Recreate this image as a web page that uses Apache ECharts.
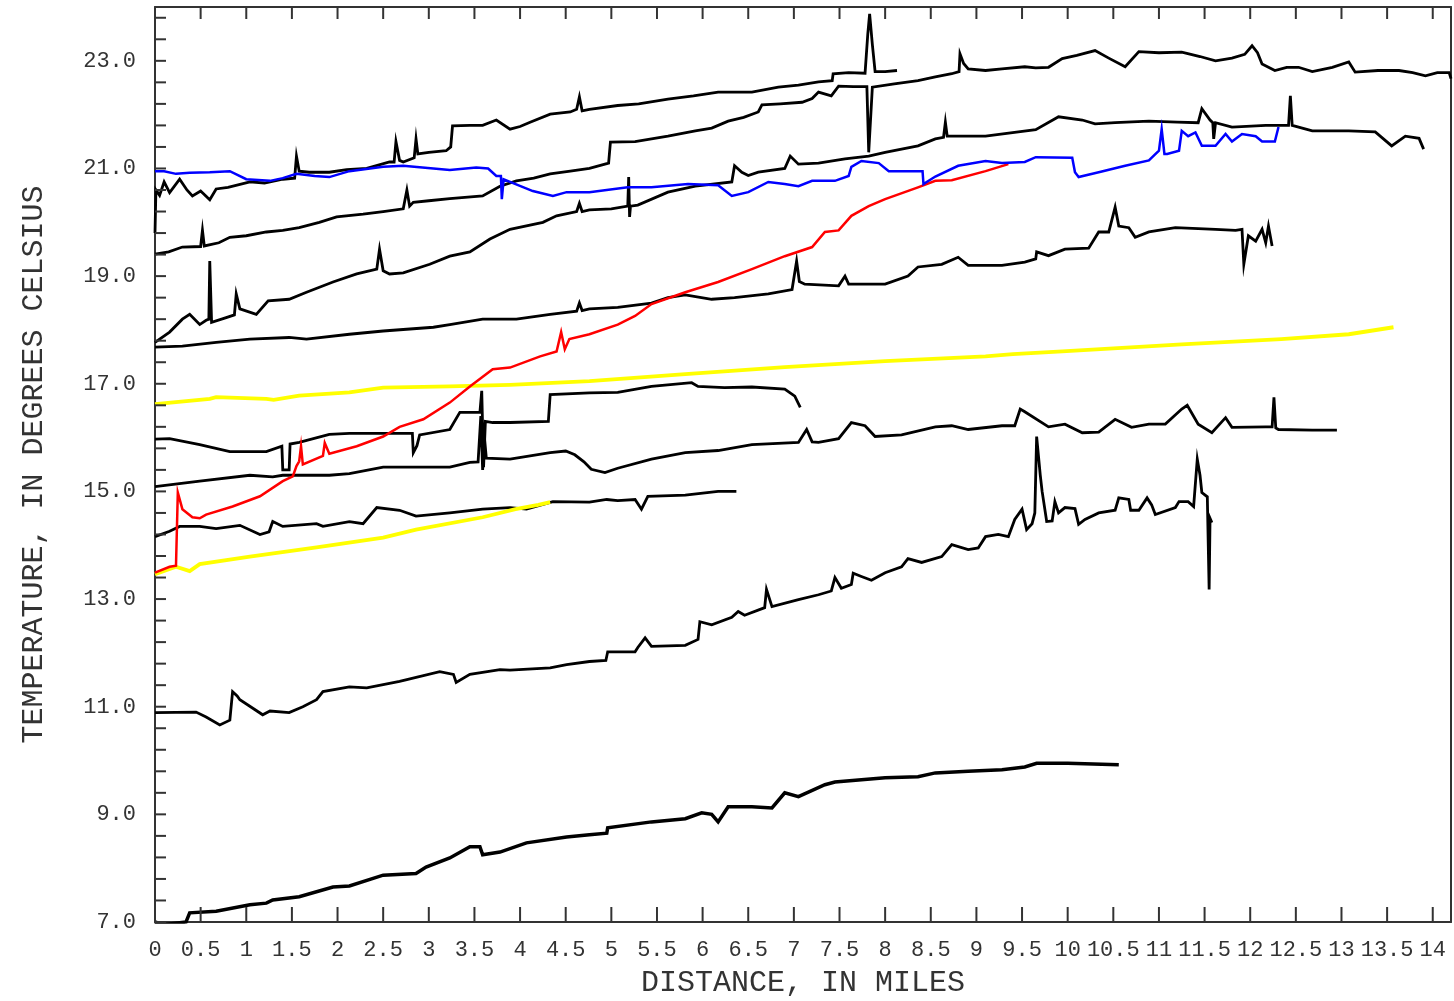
<!DOCTYPE html>
<html>
<head>
<meta charset="utf-8">
<script src="https://cdn.jsdelivr.net/npm/echarts@6/dist/echarts.min.js"></script>
<style>
  html, body { margin: 0; padding: 0; background: #ffffff; }
  #chart { width: 1454px; height: 1001px; }
</style>
</head>
<body>
<div id="chart"></div>
<script>
// Temperature profiles along the river, [distance in miles, temperature in deg C]

const profileA = [[0,19.8],[0.01,20.6],[0.05,20.5],[0.1,20.75],[0.16,20.55],[0.27,20.8],[0.35,20.6],[0.41,20.49],[0.5,20.58],[0.6,20.42],[0.67,20.62],[0.8,20.65],[1.04,20.75],[1.2,20.73],[1.4,20.8],[1.53,20.82],[1.55,21.23],[1.58,20.95],[1.69,20.93],[1.91,20.93],[2.1,20.98],[2.32,21.0],[2.57,21.12],[2.62,21.12],[2.64,21.5],[2.68,21.15],[2.72,21.12],[2.84,21.2],[2.86,21.55],[2.88,21.27],[3.0,21.3],[3.19,21.33],[3.24,21.4],[3.26,21.79],[3.45,21.8],[3.59,21.8],[3.74,21.9],[3.89,21.73],[4.0,21.78],[4.11,21.86],[4.33,22.01],[4.55,22.05],[4.62,22.1],[4.65,22.33],[4.68,22.07],[4.76,22.1],[5.07,22.17],[5.3,22.2],[5.62,22.29],[5.9,22.35],[6.17,22.42],[6.54,22.42],[6.83,22.51],[7.05,22.55],[7.27,22.61],[7.42,22.63],[7.43,22.76],[7.6,22.78],[7.78,22.77],[7.81,23.5],[7.83,23.87],[7.86,23.3],[7.89,22.8],[8.0,22.8],[8.13,22.82]];

const profileB = [[0,19.41],[0.15,19.45],[0.3,19.54],[0.5,19.55],[0.52,19.85],[0.54,19.56],[0.7,19.62],[0.82,19.72],[1.0,19.75],[1.22,19.82],[1.4,19.85],[1.58,19.9],[1.8,20.0],[1.99,20.1],[2.28,20.15],[2.5,20.2],[2.72,20.25],[2.76,20.6],[2.79,20.3],[2.83,20.37],[3.0,20.4],[3.23,20.44],[3.59,20.49],[3.78,20.67],[3.96,20.77],[4.15,20.82],[4.33,20.9],[4.55,20.95],[4.76,21.0],[4.93,21.08],[4.97,21.1],[4.99,21.49],[5.26,21.5],[5.62,21.6],[5.92,21.7],[6.1,21.75],[6.28,21.88],[6.45,21.95],[6.61,22.05],[6.65,22.18],[6.85,22.2],[7.09,22.23],[7.2,22.3],[7.27,22.42],[7.41,22.35],[7.49,22.53],[7.65,22.52],[7.8,22.52],[7.82,21.3],[7.84,21.3],[7.86,22.51],[8.1,22.57],[8.36,22.63],[8.55,22.7],[8.73,22.76],[8.81,22.8],[8.82,23.13],[8.86,22.95],[8.91,22.85],[9.1,22.82],[9.28,22.85],[9.53,22.89],[9.65,22.87],[9.79,22.88],[9.94,23.04],[10.1,23.1],[10.3,23.19],[10.45,23.05],[10.63,22.89],[10.78,23.17],[11.0,23.15],[11.25,23.16],[11.45,23.08],[11.62,23.0],[11.8,23.05],[11.94,23.12],[12.02,23.28],[12.08,23.15],[12.13,22.94],[12.27,22.82],[12.4,22.88],[12.53,22.88],[12.68,22.8],[12.9,22.88],[13.08,22.98],[13.15,22.79],[13.4,22.82],[13.63,22.82],[13.78,22.78],[13.92,22.72],[14.05,22.78],[14.18,22.78],[14.2,22.67]];

const profileC = [[0,17.77],[0.16,17.96],[0.3,18.2],[0.38,18.29],[0.49,18.1],[0.56,18.18],[0.59,18.2],[0.6,19.28],[0.62,18.14],[0.78,18.23],[0.87,18.28],[0.89,18.67],[0.93,18.39],[1.11,18.29],[1.24,18.54],[1.47,18.57],[1.66,18.7],[1.95,18.89],[2.21,19.04],[2.43,19.13],[2.46,19.5],[2.5,19.1],[2.57,19.04],[2.72,19.06],[3.01,19.22],[3.23,19.37],[3.45,19.45],[3.67,19.69],[3.89,19.87],[4.25,20.0],[4.4,20.12],[4.62,20.2],[4.65,20.35],[4.68,20.2],[4.76,20.23],[5.0,20.25],[5.18,20.3],[5.19,20.84],[5.2,20.1],[5.21,20.3],[5.29,20.32],[5.62,20.56],[5.92,20.67],[6.32,20.75],[6.35,21.05],[6.43,20.93],[6.5,20.87],[6.61,20.93],[6.9,21.0],[6.96,21.23],[7.05,21.08],[7.27,21.1],[7.56,21.18],[7.82,21.23],[8.0,21.3],[8.36,21.42],[8.55,21.55],[8.64,21.58],[8.66,21.86],[8.68,21.6],[8.73,21.6],[9.1,21.6],[9.46,21.68],[9.65,21.72],[9.9,21.96],[10.16,21.9],[10.3,21.83],[10.52,21.85],[10.89,21.88],[11.2,21.86],[11.43,21.85],[11.47,22.11],[11.56,21.9],[11.59,21.85],[11.6,21.55],[11.62,21.85],[11.8,21.77],[12.17,21.8],[12.42,21.8],[12.44,22.35],[12.46,21.8],[12.68,21.7],[13.08,21.7],[13.37,21.68],[13.55,21.42],[13.7,21.6],[13.85,21.56],[13.9,21.36]];

const profileD = [[0,17.68],[0.3,17.7],[0.67,17.77],[1.04,17.83],[1.47,17.86],[1.66,17.83],[2.13,17.92],[2.5,17.98],[3.05,18.05],[3.23,18.1],[3.59,18.2],[3.96,18.2],[4.33,18.29],[4.62,18.35],[4.65,18.5],[4.68,18.36],[4.76,18.39],[5.07,18.42],[5.44,18.5],[5.62,18.6],[5.81,18.65],[6.1,18.57],[6.35,18.6],[6.72,18.67],[6.98,18.75],[7.03,19.28],[7.06,18.9],[7.12,18.85],[7.49,18.82],[7.56,19.0],[7.6,18.85],[7.78,18.85],[8.0,18.85],[8.25,19.0],[8.36,19.17],[8.62,19.22],[8.8,19.35],[8.91,19.2],[9.28,19.2],[9.53,19.26],[9.65,19.32],[9.66,19.45],[9.79,19.38],[9.97,19.5],[10.23,19.52],[10.34,19.82],[10.45,19.82],[10.52,20.28],[10.56,19.93],[10.67,19.9],[10.74,19.72],[10.89,19.82],[11.18,19.9],[11.62,19.87],[11.84,19.85],[11.91,19.87],[11.93,19.22],[11.98,19.75],[12.06,19.65],[12.13,19.87],[12.17,19.62],[12.2,19.93],[12.24,19.56]];

const profileBlue = [[0,20.95],[0.1,20.95],[0.23,20.9],[0.38,20.92],[0.6,20.93],[0.82,20.95],[1.0,20.8],[1.26,20.77],[1.4,20.82],[1.55,20.9],[1.75,20.86],[1.91,20.84],[2.13,20.95],[2.5,21.03],[2.72,21.05],[3.05,21.0],[3.23,20.97],[3.52,21.02],[3.65,21.0],[3.74,20.86],[3.79,20.86],[3.8,20.43],[3.82,20.8],[3.89,20.75],[4.14,20.58],[4.36,20.49],[4.51,20.56],[4.76,20.56],[5.18,20.65],[5.44,20.65],[5.84,20.71],[6.17,20.69],[6.32,20.49],[6.5,20.56],[6.72,20.75],[6.9,20.71],[7.05,20.67],[7.2,20.77],[7.45,20.77],[7.6,20.86],[7.63,21.03],[7.74,21.14],[7.93,21.1],[8.04,20.95],[8.36,20.95],[8.41,20.95],[8.42,20.71],[8.55,20.85],[8.8,21.05],[9.1,21.14],[9.28,21.1],[9.53,21.12],[9.65,21.21],[10.05,21.2],[10.08,20.93],[10.12,20.84],[10.34,20.93],[10.63,21.05],[10.89,21.15],[11.0,21.33],[11.03,21.73],[11.06,21.27],[11.09,21.27],[11.22,21.33],[11.25,21.7],[11.32,21.6],[11.4,21.67],[11.47,21.42],[11.62,21.42],[11.73,21.64],[11.8,21.5],[11.91,21.64],[12.06,21.6],[12.13,21.5],[12.27,21.5],[12.31,21.77]];

const profileRed = [[0,13.49],[0.16,13.6],[0.23,13.62],[0.25,14.98],[0.27,14.98],[0.3,14.67],[0.41,14.52],[0.49,14.5],[0.56,14.57],[0.85,14.72],[1.15,14.91],[1.4,15.19],[1.51,15.28],[1.55,15.47],[1.58,15.56],[1.6,15.84],[1.62,15.5],[1.84,15.66],[1.86,15.9],[1.91,15.7],[2.21,15.84],[2.5,16.02],[2.68,16.2],[2.94,16.34],[3.23,16.65],[3.45,16.95],[3.7,17.27],[3.89,17.3],[4.22,17.51],[4.4,17.6],[4.45,17.96],[4.49,17.64],[4.54,17.83],[4.76,17.92],[5.07,18.1],[5.26,18.26],[5.44,18.48],[5.81,18.7],[6.17,18.89],[6.54,19.13],[6.9,19.37],[7.2,19.54],[7.34,19.82],[7.49,19.85],[7.63,20.12],[7.82,20.3],[8.0,20.43],[8.36,20.65],[8.55,20.77],[8.73,20.78],[9.1,20.95],[9.35,21.08]];

const profileYellowUpper = [[0,16.62],[0.6,16.72],[0.67,16.75],[1.22,16.72],[1.3,16.7],[1.58,16.78],[2.13,16.84],[2.5,16.93],[3.23,16.95],[3.89,16.98],[4.76,17.05],[5.81,17.18],[6.9,17.31],[8.0,17.42],[9.1,17.51],[9.4,17.55],[9.94,17.6],[11.25,17.73],[12.34,17.83],[13.08,17.92],[13.57,18.05]];

const profileE = [[0,15.97],[0.16,15.98],[0.49,15.87],[0.82,15.74],[1.22,15.74],[1.39,15.84],[1.4,15.4],[1.47,15.4],[1.48,15.88],[1.58,15.91],[1.91,16.06],[2.13,16.08],[2.5,16.08],[2.72,16.08],[2.82,16.08],[2.83,15.72],[2.87,15.85],[2.9,16.05],[3.23,16.15],[3.34,16.47],[3.56,16.47],[3.58,16.87],[3.6,15.45],[3.62,16.3],[3.7,16.28],[3.89,16.28],[4.31,16.3],[4.33,16.8],[4.76,16.83],[5.07,16.84],[5.44,16.95],[5.88,17.02],[5.95,16.95],[6.24,16.93],[6.54,16.94],[6.9,16.9],[7.01,16.77],[7.07,16.56]];

const profileF = [[0,15.09],[0.49,15.19],[1.04,15.3],[1.29,15.27],[1.4,15.3],[1.58,15.3],[1.91,15.3],[2.13,15.33],[2.5,15.45],[3.23,15.45],[3.45,15.54],[3.54,15.55],[3.57,16.4],[3.59,15.4],[3.61,16.0],[3.63,15.62],[3.89,15.6],[4.33,15.72],[4.5,15.75],[4.6,15.68],[4.7,15.55],[4.78,15.41],[4.93,15.35],[5.07,15.43],[5.44,15.6],[5.81,15.72],[6.17,15.76],[6.54,15.87],[7.05,15.91],[7.14,16.15],[7.2,15.92],[7.27,15.91],[7.49,15.98],[7.63,16.28],[7.78,16.22],[7.89,16.02],[8.18,16.05],[8.55,16.2],[8.73,16.22],[8.91,16.15],[9.28,16.22],[9.42,16.22],[9.48,16.53],[9.53,16.48],[9.79,16.2],[9.97,16.25],[10.16,16.09],[10.34,16.1],[10.52,16.34],[10.7,16.19],[10.89,16.25],[11.07,16.25],[11.25,16.53],[11.31,16.6],[11.43,16.25],[11.58,16.09],[11.73,16.37],[11.8,16.19],[12.17,16.2],[12.24,16.2],[12.26,16.75],[12.28,16.18],[12.31,16.15],[12.68,16.14],[12.95,16.14]];

const profileG = [[0,14.16],[0.16,14.26],[0.27,14.35],[0.49,14.35],[0.67,14.31],[0.93,14.37],[1.15,14.2],[1.25,14.25],[1.29,14.44],[1.4,14.35],[1.77,14.4],[1.84,14.35],[2.13,14.44],[2.28,14.4],[2.43,14.7],[2.68,14.65],[2.86,14.54],[3.23,14.6],[3.59,14.67],[3.89,14.7],[4.07,14.67],[4.36,14.81],[4.76,14.8],[4.95,14.85],[5.07,14.83],[5.26,14.85],[5.33,14.67],[5.4,14.91],[5.81,14.93],[6.17,15.0],[6.37,15.0]];

const profileYellowLower = [[0,13.46],[0.23,13.6],[0.38,13.52],[0.49,13.65],[1.04,13.79],[1.77,13.96],[2.5,14.14],[2.86,14.29],[3.59,14.52],[3.95,14.67],[4.2,14.75],[4.33,14.8]];

const profileH = [[0,10.89],[0.45,10.9],[0.56,10.81],[0.71,10.66],[0.82,10.75],[0.84,10.75],[0.85,11.28],[0.9,11.2],[0.93,11.13],[1.18,10.85],[1.26,10.92],[1.47,10.89],[1.62,11.0],[1.77,11.13],[1.84,11.28],[2.13,11.37],[2.32,11.35],[2.68,11.47],[3.12,11.65],[3.27,11.6],[3.3,11.45],[3.45,11.6],[3.78,11.69],[3.89,11.68],[4.33,11.72],[4.51,11.78],[4.76,11.84],[4.94,11.86],[4.96,12.02],[5.26,12.02],[5.29,12.1],[5.37,12.28],[5.44,12.12],[5.81,12.14],[5.95,12.25],[5.97,12.58],[6.1,12.52],[6.32,12.66],[6.39,12.77],[6.46,12.7],[6.68,12.84],[6.7,13.18],[6.76,12.86],[7.05,12.99],[7.27,13.08],[7.41,13.15],[7.45,13.4],[7.52,13.2],[7.63,13.27],[7.65,13.48],[7.74,13.42],[7.85,13.35],[8.0,13.49],[8.18,13.6],[8.25,13.75],[8.4,13.68],[8.62,13.79],[8.73,14.01],[8.91,13.92],[9.02,13.95],[9.1,14.16],[9.24,14.2],[9.35,14.16],[9.42,14.48],[9.5,14.67],[9.55,14.29],[9.61,14.4],[9.64,14.6],[9.66,16.02],[9.7,15.3],[9.72,15.0],[9.77,14.44],[9.83,14.45],[9.86,14.81],[9.9,14.6],[9.97,14.7],[10.08,14.68],[10.12,14.39],[10.19,14.48],[10.34,14.6],[10.52,14.65],[10.56,14.88],[10.67,14.85],[10.69,14.65],[10.78,14.65],[10.87,14.88],[10.92,14.75],[10.96,14.57],[11.18,14.7],[11.22,14.81],[11.32,14.81],[11.38,14.72],[11.42,15.6],[11.45,15.3],[11.47,14.98],[11.53,14.9],[11.55,13.18],[11.56,14.5],[11.58,14.42]];

const profileI = [[0,7.0],[0.09,6.95],[0.34,7.0],[0.38,7.17],[0.67,7.2],[1.04,7.32],[1.22,7.35],[1.29,7.41],[1.58,7.47],[1.95,7.65],[2.13,7.67],[2.5,7.87],[2.86,7.9],[2.97,8.02],[3.23,8.19],[3.45,8.4],[3.56,8.4],[3.59,8.25],[3.78,8.3],[4.07,8.47],[4.51,8.58],[4.76,8.62],[4.95,8.65],[4.96,8.75],[5.44,8.86],[5.81,8.92],[5.99,9.03],[6.1,9.0],[6.17,8.86],[6.28,9.14],[6.54,9.14],[6.76,9.12],[6.9,9.4],[7.05,9.33],[7.34,9.55],[7.45,9.6],[8.0,9.68],[8.36,9.7],[8.55,9.77],[8.91,9.8],[9.28,9.83],[9.53,9.88],[9.66,9.95],[10.0,9.95],[10.56,9.92]];

// Axis ranges, label steps and tick-mark positions
const distanceRange = [0, 14.2];
const distanceStep = 0.5;
const tempRange = [7, 24];
const tempLabelStep = 1;      // labels shown on odd whole degrees only
const distanceTicks = [0,0.5,1,1.5,2,2.5,3,3.5,4,4.5,5,5.5,6,6.5,7,7.5,8,8.5,9,9.5,10,10.5,11,11.5,12,12.5,13,13.5,14];
const tempTicks = [7.0,7.4,7.8,8.2,8.6,9.0,9.4,9.8,10.2,10.6,11.0,11.4,11.8,12.2,12.6,13.0,13.4,13.8,14.2,14.6,15.0,15.4,15.8,16.2,16.6,17.0,17.4,17.8,18.2,18.6,19.0,19.4,19.8,20.2,20.6,21.0,21.4,21.8,22.2,22.6,23.0,23.4,23.8];

const FONT = '"Liberation Mono", "DejaVu Sans Mono", monospace';
const INK = '#333333';

function lineSeries(data, color, width, z) {
  return {
    type: 'line', data: data, xAxisIndex: 0, yAxisIndex: 0,
    showSymbol: false, symbol: 'none', animation: false, z: z,
    lineStyle: { color: color, width: width, join: 'miter' }
  };
}

// Inward tick marks along the frame, drawn as thin rectangle symbols anchored on the axis values
function tickSeries(points, size, offset) {
  return {
    type: 'line', data: points, xAxisIndex: 0, yAxisIndex: 0,
    showSymbol: true, showAllSymbol: true, symbol: 'rect',
    symbolSize: size, symbolOffset: offset, symbolKeepAspect: false,
    itemStyle: { color: INK, borderWidth: 0 },
    lineStyle: { width: 0, opacity: 0 },
    clip: false, silent: true, animation: false, z: 10,
    emphasis: { disabled: true }, tooltip: { show: false }
  };
}

const chart = echarts.init(document.getElementById('chart'), null, { renderer: 'canvas' });
chart.setOption({
  backgroundColor: '#ffffff',
  animation: false,
  grid: { left: 155, right: 3, top: 7, bottom: 79, containLabel: false, outerBoundsMode: 'none' },
  xAxis: [
    {
      type: 'value', position: 'bottom', min: distanceRange[0], max: distanceRange[1], interval: distanceStep,
      name: 'DISTANCE, IN MILES', nameLocation: 'middle', nameGap: 46,
      nameTextStyle: { fontFamily: FONT, fontSize: 30, color: INK },
      axisLine: { show: true, onZero: false, lineStyle: { color: INK, width: 2 } },
      axisTick: { show: false },
      axisLabel: {
        fontFamily: FONT, fontSize: 22, color: INK, margin: 17,
        formatter: function (v) {
          const r = Math.round(v * 2) / 2;
          return Math.abs(v - r) < 1e-6 ? String(r) : '';
        }
      },
      splitLine: { show: false }
    },
    {
      type: 'value', position: 'top', min: distanceRange[0], max: distanceRange[1], interval: distanceStep,
      axisLine: { show: true, onZero: false, lineStyle: { color: INK, width: 2 } },
      axisTick: { show: false },
      axisLabel: { show: false },
      splitLine: { show: false }
    }
  ],
  yAxis: [
    {
      type: 'value', position: 'left', min: tempRange[0], max: tempRange[1], interval: tempLabelStep,
      name: 'TEMPERATURE, IN DEGREES CELSIUS', nameLocation: 'middle', nameGap: 106, nameRotate: 90,
      nameTextStyle: { fontFamily: FONT, fontSize: 30, color: INK },
      axisLine: { show: true, onZero: false, lineStyle: { color: INK, width: 2 } },
      axisTick: { show: false },
      axisLabel: {
        fontFamily: FONT, fontSize: 22, color: INK, margin: 19,
        formatter: function (v) {
          const r = Math.round(v);
          return (Math.abs(v - r) < 1e-6 && r % 2 === 1) ? r.toFixed(1) : '';
        }
      },
      splitLine: { show: false }
    },
    {
      type: 'value', position: 'right', min: tempRange[0], max: tempRange[1],
      axisLine: { show: true, onZero: false, lineStyle: { color: INK, width: 2 } },
      axisTick: { show: false },
      axisLabel: { show: false },
      splitLine: { show: false }
    }
  ],
  series: [
    lineSeries(profileA, '#000000', 2.8, 2),
    lineSeries(profileB, '#000000', 2.8, 2),
    lineSeries(profileC, '#000000', 2.8, 2),
    lineSeries(profileD, '#000000', 2.8, 2),
    lineSeries(profileE, '#000000', 2.8, 2),
    lineSeries(profileF, '#000000', 2.8, 2),
    lineSeries(profileG, '#000000', 2.8, 2),
    lineSeries(profileH, '#000000', 2.8, 2),
    lineSeries(profileI, '#000000', 3.5, 2),
    lineSeries(profileYellowUpper, '#ffff00', 3.8, 3),
    lineSeries(profileYellowLower, '#ffff00', 3.8, 3),
    lineSeries(profileRed, '#ff0000', 2.5, 4),
    lineSeries(profileBlue, '#0000ff', 2.5, 5),
    tickSeries(distanceTicks.map(function (v) { return [v, tempRange[0]]; }), [2, 15], [0, -7.5]),
    tickSeries(distanceTicks.map(function (v) { return [v, tempRange[1]]; }), [2, 12], [0, 6]),
    tickSeries(tempTicks.map(function (v) { return [distanceRange[0], v]; }), [11, 2], [5.5, 0])
  ]
});
</script>
</body>
</html>
